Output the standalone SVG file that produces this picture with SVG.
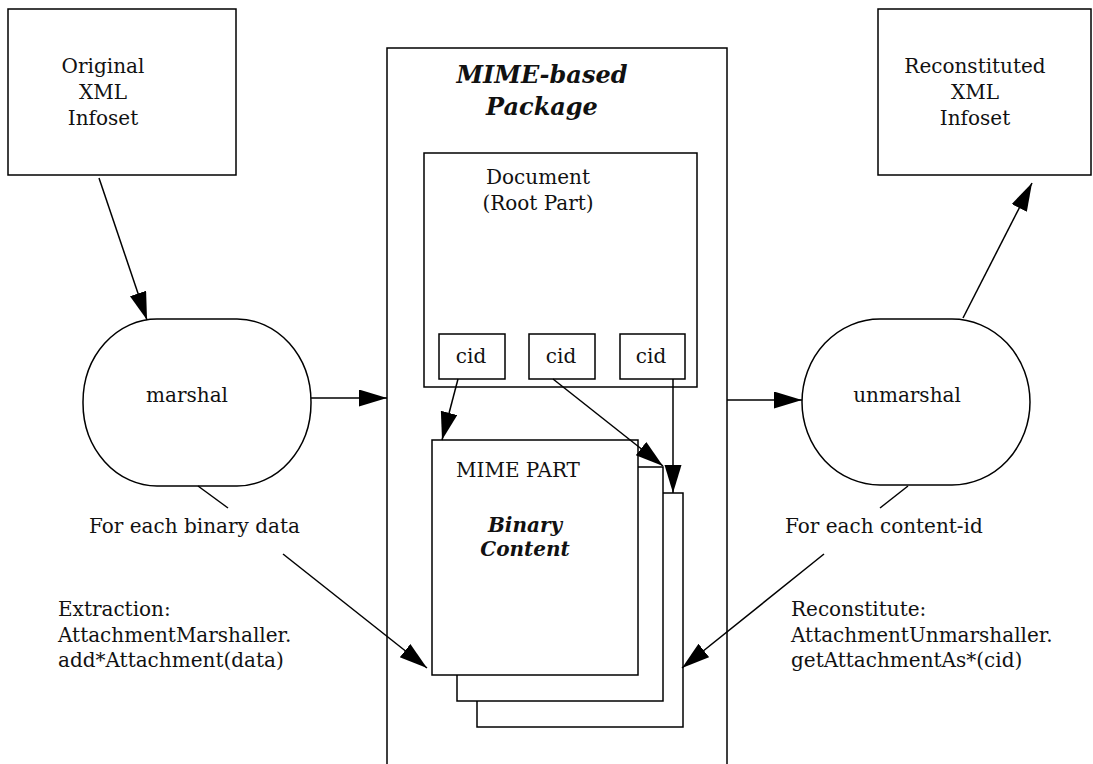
<svg xmlns="http://www.w3.org/2000/svg" width="1093" height="764" viewBox="0 0 1093 764">
<style>
  .box { fill: #fff; stroke: #000; stroke-width: 1.5; }
  .edge { fill: none; stroke: #000; stroke-width: 1.5; }
  .t { font-family: "DejaVu Serif", "Liberation Serif", serif; font-size: 20px; fill: #111; }
  .c { text-anchor: middle; }
  .bi { font-family: "DejaVu Serif", "Liberation Serif", serif; font-weight: bold; font-style: italic; fill: #111; text-anchor: middle; }
</style>
<defs>
  <marker id="arr" markerUnits="userSpaceOnUse" markerWidth="30" markerHeight="20" refX="28" refY="8.5" orient="auto">
    <path d="M0,0 L28,8.5 L0,17 z" fill="#000"/>
  </marker>
</defs>
<rect width="1093" height="764" fill="#fff"/>

<g id="original">
  <rect class="box" x="8" y="9" width="228" height="166"/>
  <text class="t c" x="103" y="73">Original</text>
  <text class="t c" x="103" y="99">XML</text>
  <text class="t c" x="103" y="125">Infoset</text>
</g>

<g id="reconstituted">
  <rect class="box" x="878" y="9" width="213" height="166"/>
  <text class="t c" x="975" y="73">Reconstituted</text>
  <text class="t c" x="975" y="99">XML</text>
  <text class="t c" x="975" y="125">Infoset</text>
</g>

<g id="package">
  <rect class="box" x="387" y="48" width="340" height="730"/>
  <text class="bi" font-size="24" x="542" y="83">MIME-based</text>
  <text class="bi" font-size="24" x="542" y="115">Package</text>
</g>

<g id="document">
  <rect class="box" x="424" y="153" width="273" height="234"/>
  <text class="t c" x="538" y="184">Document</text>
  <text class="t c" x="538" y="210">(Root Part)</text>
</g>

<g id="cid1">
  <rect class="box" x="439" y="334" width="66" height="45"/>
  <text class="t c" x="471" y="363">cid</text>
</g>
<g id="cid2">
  <rect class="box" x="529" y="334" width="66" height="45"/>
  <text class="t c" x="561" y="363">cid</text>
</g>
<g id="cid3">
  <rect class="box" x="620" y="334" width="65" height="45"/>
  <text class="t c" x="651" y="363">cid</text>
</g>

<g id="mimepart">
  <rect class="box" x="477" y="493" width="206" height="234"/>
  <rect class="box" x="457" y="467" width="206" height="234"/>
  <rect class="box" x="432" y="440" width="206" height="235"/>
  <text class="t c" x="518" y="477">MIME PART</text>
  <text class="bi" font-size="20" x="525" y="532">Binary</text>
  <text class="bi" font-size="20" x="525" y="556">Content</text>
</g>

<g id="marshal">
  <rect class="box" x="83" y="319" width="228" height="167" rx="74" ry="83"/>
  <text class="t c" x="187" y="402">marshal</text>
</g>

<g id="unmarshal">
  <rect class="box" x="802" y="319" width="228" height="166" rx="78" ry="83"/>
  <text class="t c" x="907" y="402">unmarshal</text>
</g>

<g id="labels">
  <text class="t" x="89" y="533">For each binary data</text>
  <text class="t" x="58" y="616">Extraction:</text>
  <text class="t" x="58" y="642">AttachmentMarshaller.</text>
  <text class="t" x="58" y="667">add*Attachment(data)</text>
  <text class="t" x="785" y="533">For each content-id</text>
  <text class="t" x="791" y="616">Reconstitute:</text>
  <text class="t" x="791" y="642">AttachmentUnmarshaller.</text>
  <text class="t" x="791" y="667">getAttachmentAs*(cid)</text>
</g>

<g id="connectors">
  <line class="edge" x1="99" y1="178" x2="147" y2="320" marker-end="url(#arr)"/>
  <line class="edge" x1="311" y1="398" x2="387" y2="398" marker-end="url(#arr)"/>
  <line class="edge" x1="727" y1="400" x2="802" y2="400" marker-end="url(#arr)"/>
  <line class="edge" x1="963" y1="318" x2="1032" y2="183" marker-end="url(#arr)"/>
  <line class="edge" x1="458" y1="379" x2="442" y2="440" marker-end="url(#arr)"/>
  <line class="edge" x1="553" y1="379" x2="663" y2="466" marker-end="url(#arr)"/>
  <line class="edge" x1="673" y1="379" x2="673" y2="493" marker-end="url(#arr)"/>
  <line class="edge" x1="198" y1="486" x2="228" y2="508"/>
  <line class="edge" x1="283" y1="554" x2="427" y2="668" marker-end="url(#arr)"/>
  <line class="edge" x1="908" y1="486" x2="880" y2="508"/>
  <line class="edge" x1="824" y1="554" x2="682" y2="668" marker-end="url(#arr)"/>
</g>
</svg>
